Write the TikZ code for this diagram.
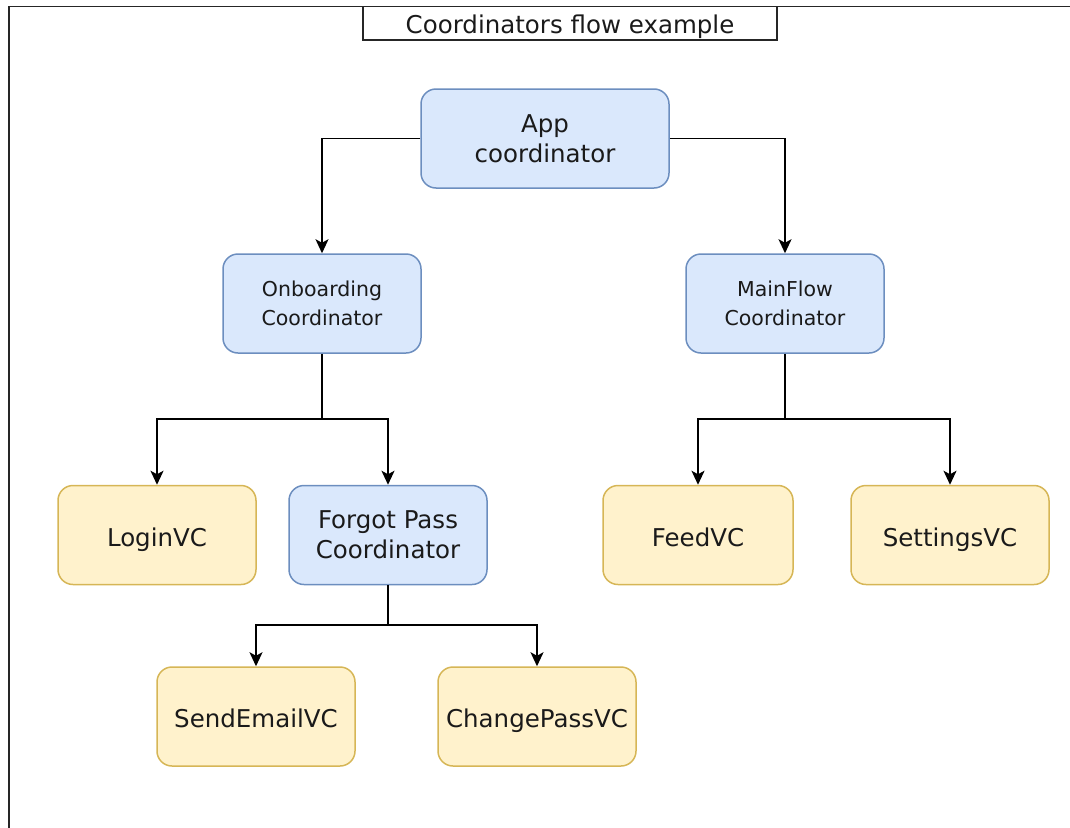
\documentclass[tikz,border=0pt]{standalone}
\usepackage{fontspec}
\setmainfont{DejaVu Sans}
\usetikzlibrary{arrows.meta}
\definecolor{bluefill}{HTML}{DAE8FC}
\definecolor{bluedraw}{HTML}{6C8EBF}
\definecolor{yellowfill}{HTML}{FFF2CC}
\definecolor{yellowdraw}{HTML}{D6B656}
\definecolor{ink}{HTML}{1A1A1A}
\tikzset{
  box/.style={rounded corners=15pt, line width=1.5pt, minimum width=198pt,
    minimum height=99pt, align=center, text=ink, inner sep=0pt},
  coord/.style={box, fill=bluefill, draw=bluedraw, font=\fontsize{24.5}{30}\selectfont},
  smallcoord/.style={coord, font=\fontsize{20.5}{29}\selectfont},
  vc/.style={box, fill=yellowfill, draw=yellowdraw, font=\fontsize{24.5}{30}\selectfont,
    text height=24pt, text depth=2pt},
  link/.style={line width=1.7pt, -{Stealth[length=14pt,width=13pt,inset=3.5pt]}},
  joint/.style={line width=1.7pt}
}
\begin{document}
\begin{tikzpicture}[x=1pt,y=-1pt]
\useasboundingbox (0,0) rectangle (1070,827);
% outer frame (runs past the page on the right and bottom)
\draw[line width=1.8pt, draw=black!85] (9,900) -- (9,6.5) -- (1100,6.5);
% title
\node[draw=black!85, line width=1.6pt, minimum width=413.5pt, minimum height=33.5pt,
  inner sep=0pt, font=\fontsize{24.5}{30}\selectfont, text=ink,
  text height=22pt, text depth=2pt]
  (title) at (570,23.3) {Coordinators flow example};

% nodes
\node[coord, minimum width=248pt] (app) at (545,138.5) {App\\coordinator};
\node[smallcoord] (onb) at (322,303.5) {Onboarding\\Coordinator};
\node[smallcoord] (main) at (785,303.5) {MainFlow\\Coordinator};
\node[vc] (login) at (157,535) {LoginVC};
\node[coord] (forgot) at (388,535) {Forgot Pass\\Coordinator};
\node[vc, minimum width=190pt] (feed) at (698,535) {FeedVC};
\node[vc] (settings) at (950,535) {SettingsVC};
\node[vc] (send) at (256,716.5) {SendEmailVC};
\node[vc] (change) at (537,716.5) {ChangePassVC};

% connectors
\draw[link] (app.west) -| (onb.north);
\draw[link] (app.east) -| (main.north);

\coordinate (onbsplit) at (322,419);
\draw[joint] (onb.south) -- (onbsplit);
\draw[link] (onbsplit) -| (login.north);
\draw[link] (onbsplit) -| (forgot.north);

\coordinate (mainsplit) at (785,419);
\draw[joint] (main.south) -- (mainsplit);
\draw[link] (mainsplit) -| (feed.north);
\draw[link] (mainsplit) -| (settings.north);

\coordinate (forgotsplit) at (388,625);
\draw[joint] (forgot.south) -- (forgotsplit);
\draw[link] (forgotsplit) -| (send.north);
\draw[link] (forgotsplit) -| (change.north);
\end{tikzpicture}
\end{document}
